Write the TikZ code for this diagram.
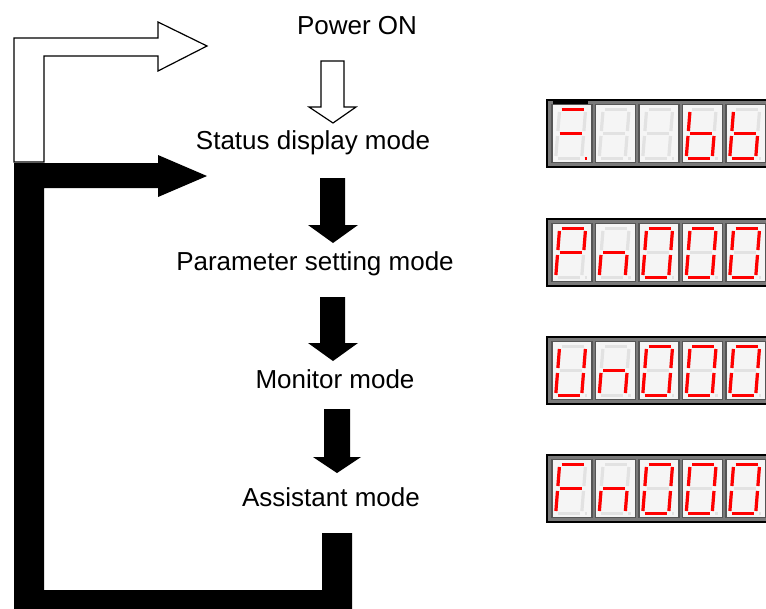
\documentclass[tikz,border=0pt]{standalone}
\usepackage{fontspec}
\setmainfont{Liberation Sans}
\definecolor{segred}{RGB}{255,0,0}
\definecolor{segoff}{RGB}{226,226,226}
\definecolor{framegray}{RGB}{122,122,122}
\definecolor{cellgray}{RGB}{85,85,85}
\definecolor{cellfill}{RGB}{245,245,245}
\tikzset{
  sega/.style={insert path={(10,5)--(32,5)}},
  segb/.style={insert path={(34,7.5)--(34,26.5)}},
  segc/.style={insert path={(34,31.5)--(34,51.5)}},
  segd/.style={insert path={(10,54)--(32,54)}},
  sege/.style={insert path={(8,31.5)--(8,51.5)}},
  segf/.style={insert path={(8,7.5)--(8,26.5)}},
  segg/.style={insert path={(10,29)--(32,29)}},
  segp/.style={insert path={(37,54)--(39.5,54)}},
  segnone/.style={},
  segon/.style={draw=segred, line width=3.2pt},
  segdim/.style={draw=segoff, line width=3.2pt},
  modetext/.style={font=\fontsize{26}{30}\selectfont, inner sep=0pt, anchor=base},
  hollow/.style={draw=black, line width=1.2pt, fill=white, line join=miter},
  solid/.style={fill=black},
}
\newcommand\sdigit[3]{%
  \begin{scope}[shift={(#1,#2)}, xslant=0.08]
    \foreach \s in {a,b,c,d,e,f,g,p}{\draw[segdim, seg\s];}
    \foreach \s in {#3}{\draw[segon, seg\s];}
  \end{scope}}
\newcommand\panel[6]{%
  \fill[framegray] (547,#1) rectangle (772,#1+67);
  \draw[black, line width=1.6pt] (547,#1) rectangle (772,#1+67);
  \foreach \cx in {552,595.5,639,682.5,726}{
    \draw[cellgray, fill=cellfill, line width=1.4pt] (\cx,#1+4.5) rectangle (\cx+40,#1+62.5);}
  \sdigit{552}{#1+4.5}{#2}
  \sdigit{595.5}{#1+4.5}{#3}
  \sdigit{639}{#1+4.5}{#4}
  \sdigit{682.5}{#1+4.5}{#5}
  \sdigit{726}{#1+4.5}{#6}}
\begin{document}
\begin{tikzpicture}[x=1pt,y=-1pt]
  \clip (0,0) rectangle (766,608);
  \fill[white] (0,0) rectangle (766,608);

  % texts
  \node[modetext] (power)   at (357,34)  {Power ON};
  \node[modetext] (status)  at (313,149) {Status display mode};
  \node[modetext] (param)   at (315,270) {Parameter setting mode};
  \node[modetext] (monitor) at (335,388) {Monitor mode};
  \node[modetext] (assist)  at (331,506) {Assistant mode};

  % hollow bent arrow (power on)
  \draw[hollow] (14,162) -- (14,38) -- (158,38) -- (158,22) -- (207,46)
    -- (158,71) -- (158,56) -- (44,56) -- (44,162) -- cycle;

  % hollow down arrow
  \draw[hollow] (321,61) -- (344,61) -- (344,107) -- (356,107) -- (333,123)
    -- (309,107) -- (321,107) -- cycle;

  % black loop arrow
  \fill[solid] (14,163) -- (158,163) -- (158,155) -- (207,176) -- (158,197)
    -- (158,188) -- (44,188) -- (44,590) -- (322,590) -- (322,533)
    -- (352,533) -- (352,610) -- (14,610) -- cycle;

  % black down arrows
  \fill[solid] (320,178) -- (345,178) -- (345,225) -- (358,225) -- (333,243)
    -- (308,225) -- (320,225) -- cycle;
  \fill[solid] (320,297) -- (345,297) -- (345,343) -- (358,343) -- (333,361)
    -- (308,343) -- (320,343) -- cycle;
  \fill[solid] (324,409) -- (350,409) -- (350,457) -- (361,457) -- (337,473)
    -- (313,457) -- (324,457) -- cycle;

  % displays
  \panel{100}{a,g,p}{none}{none}{c,d,e,f,g}{c,d,e,f,g}
  \fill[black] (553,100) rectangle (588,104);
  \panel{219}{a,b,e,f,g}{c,e,g}{a,b,c,d,e,f}{a,b,c,d,e,f}{a,b,c,d,e,f}
  \panel{337}{b,c,d,e,f}{c,e,g}{a,b,c,d,e,f}{a,b,c,d,e,f}{a,b,c,d,e,f}
  \panel{455}{a,e,f,g}{c,e,g}{a,b,c,d,e,f}{a,b,c,d,e,f}{a,b,c,d,e,f}
\end{tikzpicture}
\end{document}
